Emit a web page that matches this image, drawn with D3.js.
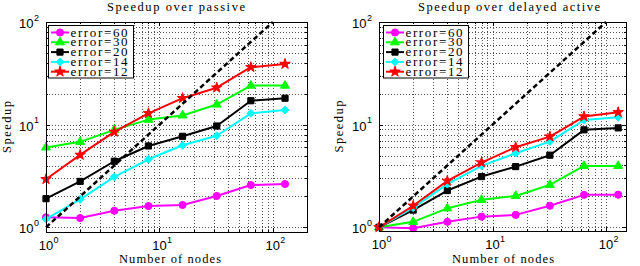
<!DOCTYPE html>
<html>
<head>
<meta charset="utf-8">
<script src="https://cdn.jsdelivr.net/npm/d3@7"></script>
<style>
  body { margin: 0; background: #fff; }
  svg { display: block; }
</style>
</head>
<body>
<div id="chart"></div>
<script>
// ---- data ----
const nodes = [1, 2, 4, 8, 16, 32, 64, 128];
const idealNodes = [1, 100];
const errorLabels = ["error=60", "error=30", "error=20", "error=14", "error=12"];

// speedup over passive
const passive60 = [1.25, 1.23, 1.45, 1.61, 1.65, 2.02, 2.58, 2.64];
const passive30 = [6.0, 6.8, 8.9, 11.2, 12.3, 15.7, 24.0, 24.0];
const passive20 = [1.9, 2.8, 4.4, 6.2, 7.7, 9.7, 17.1, 18.1];
const passive14 = [1.2, 1.87, 3.1, 4.6, 6.3, 7.8, 12.9, 13.9];
const passive12 = [2.94, 5.07, 8.5, 12.9, 18.1, 22.9, 36.3, 39.0];

// speedup over delayed active
const delayed60 = [1.0, 0.98, 1.13, 1.27, 1.32, 1.62, 2.07, 2.08];
const delayed30 = [1.0, 1.13, 1.53, 1.85, 2.02, 2.59, 3.96, 3.96];
const delayed20 = [1.0, 1.47, 2.28, 3.12, 3.9, 5.04, 8.9, 9.3];
const delayed14 = [1.0, 1.55, 2.63, 3.96, 5.27, 6.84, 11.1, 11.8];
const delayed12 = [1.0, 1.62, 2.83, 4.27, 6.03, 7.65, 12.0, 13.2];

const panelTitles = ["Speedup over passive", "Speedup over delayed active"];
const xAxisTitle = "Number of nodes";
const yAxisTitle = "Speedup";

// ---- styles ----
const seriesColors = ["#ff00ff", "#00ff00", "#000000", "#00ffff", "#ff0000"];
const serifFont = "'Liberation Serif', 'Times New Roman', Times, serif";
const sansFont = "'Liberation Sans', Arial, Helvetica, sans-serif";

// MATLAB-like diamond (a rotated square)
const symbolSquareDiamond = {
    draw: function(context, size){
        const r = Math.sqrt(size) * 0.62;
        context.moveTo(0, -r);
        context.lineTo(r, 0);
        context.lineTo(0, r);
        context.lineTo(-r, 0);
        context.closePath();
    }
};
const seriesSymbols = [
    d3.symbol(d3.symbolCircle, 40),
    d3.symbol(d3.symbolTriangle, 34),
    d3.symbol(d3.symbolSquare, 38),
    d3.symbol(symbolSquareDiamond, 40),
    d3.symbol(d3.symbolStar, 34)
];

const svg = d3.select("#chart").append("svg")
    .attr("width", 640)
    .attr("height", 266);

/**
 * One log-log speedup panel
 */
function SpeedupChart(cfg){
    var self = this;
    self.cfg = cfg;
    self.init();
}

SpeedupChart.prototype.init = function(){
    var self = this;
    var c = self.cfg;
    self.g = svg.append("g");
    self.x = d3.scaleLog().domain(c.xDomain).range([c.left, c.right]);
    self.y = d3.scaleLog().domain(c.yDomain).range([c.bottom, c.top]);
};

SpeedupChart.prototype.isMajor = function(v){
    var p = Math.log10(v);
    return Math.abs(p - Math.round(p)) < 1e-9;
};

// serif text spread to the width it has in the original (only spacing grows)
SpeedupChart.prototype.serifText = function(parent, str, size, width){
    return parent.append("text")
        .attr("font-family", serifFont)
        .attr("font-size", size)
        .attr("fill", "#000")
        .attr("textLength", width)
        .attr("lengthAdjust", "spacing")
        .text(str);
};

SpeedupChart.prototype.update = function(series){
    var self = this;
    var c = self.cfg;
    var g = self.g;
    var x = self.x, y = self.y;

    var xTicks = x.ticks();
    var yTicks = y.ticks().filter(function(v){ return v >= c.yDomain[0] * 1.001; });

    // dotted grid
    var grid = g.append("g")
        .attr("stroke", "#555")
        .attr("stroke-width", 1)
        .attr("stroke-dasharray", "1,2");
    grid.selectAll("line.vx").data(xTicks).enter().append("line")
        .attr("x1", function(d){ return Math.round(x(d)) + 0.5; })
        .attr("x2", function(d){ return Math.round(x(d)) + 0.5; })
        .attr("y1", c.top).attr("y2", c.bottom);
    grid.selectAll("line.hy").data(yTicks).enter().append("line")
        .attr("y1", function(d){ return Math.round(y(d)) + 0.5; })
        .attr("y2", function(d){ return Math.round(y(d)) + 0.5; })
        .attr("x1", c.left).attr("x2", c.right);

    // inward ticks on all four sides
    var ticks = g.append("g").attr("stroke", "#000").attr("stroke-width", 1);
    xTicks.forEach(function(d){
        var len = self.isMajor(d) ? 4 : 2;
        var px = Math.round(x(d)) + 0.5;
        ticks.append("line").attr("x1", px).attr("x2", px).attr("y1", c.bottom).attr("y2", c.bottom - len);
        ticks.append("line").attr("x1", px).attr("x2", px).attr("y1", c.top).attr("y2", c.top + len);
    });
    yTicks.forEach(function(d){
        var len = self.isMajor(d) ? 4 : 2;
        var py = Math.round(y(d)) + 0.5;
        ticks.append("line").attr("y1", py).attr("y2", py).attr("x1", c.left).attr("x2", c.left + len);
        ticks.append("line").attr("y1", py).attr("y2", py).attr("x1", c.right).attr("x2", c.right - len);
    });

    // tick labels 10^k
    xTicks.filter(function(d){ return self.isMajor(d); }).forEach(function(d){
        var px = x(d);
        g.append("text").attr("font-family", sansFont)
            .attr("x", px).attr("y", c.bottom + 18)
            .attr("text-anchor", "middle").attr("font-size", 13)
            .text("10");
        g.append("text").attr("font-family", sansFont)
            .attr("x", px + 7.5).attr("y", c.bottom + 11)
            .attr("font-size", 9)
            .text(Math.round(Math.log10(d)));
    });
    yTicks.filter(function(d){ return self.isMajor(d); }).forEach(function(d){
        var py = y(d);
        g.append("text").attr("font-family", sansFont)
            .attr("x", c.left - 12.5).attr("y", py + 6)
            .attr("text-anchor", "end").attr("font-size", 13)
            .text("10");
        g.append("text").attr("font-family", sansFont)
            .attr("x", c.left - 12).attr("y", py - 1.5)
            .attr("font-size", 9)
            .text(Math.round(Math.log10(d)));
    });

    // data lines and markers
    var line = d3.line()
        .x(function(d){ return x(d[0]); })
        .y(function(d){ return y(d[1]); });

    series.forEach(function(values, i){
        var pts = nodes.map(function(n, j){ return [n, values[j]]; });
        g.append("path")
            .attr("d", line(pts))
            .attr("fill", "none")
            .attr("stroke", seriesColors[i])
            .attr("stroke-width", 2)
            .attr("stroke-linejoin", "round");
        g.selectAll("path.m" + i).data(pts).enter().append("path")
            .attr("class", "m" + i)
            .attr("d", seriesSymbols[i])
            .attr("transform", function(d){ return "translate(" + x(d[0]) + "," + y(d[1]) + ")"; })
            .attr("fill", seriesColors[i])
            .attr("stroke", seriesColors[i])
            .attr("stroke-width", 1);
    });

    // ideal speedup, dashed
    g.append("path")
        .attr("d", line(idealNodes.map(function(n){ return [n, n]; })))
        .attr("fill", "none")
        .attr("stroke", "#000")
        .attr("stroke-width", 2.5)
        .attr("stroke-dasharray", "5,3");

    // axes box
    g.append("rect")
        .attr("x", c.left + 0.5).attr("y", c.top + 0.5)
        .attr("width", c.right - c.left).attr("height", c.bottom - c.top)
        .attr("fill", "none").attr("stroke", "#000").attr("stroke-width", 1);

    // legend
    var lx = c.left + c.legendDx, ly = 25;
    var leg = g.append("g");
    leg.append("rect")
        .attr("x", lx + 0.5).attr("y", ly + 0.5)
        .attr("width", 85).attr("height", 52.5)
        .attr("fill", "#fff").attr("stroke", "#000").attr("stroke-width", 1);
    errorLabels.forEach(function(label, i){
        var ry = ly + 7.5 + i * 9.8;
        leg.append("line")
            .attr("x1", lx + 3).attr("x2", lx + 21)
            .attr("y1", ry).attr("y2", ry)
            .attr("stroke", seriesColors[i]).attr("stroke-width", 2);
        leg.append("path")
            .attr("d", seriesSymbols[i])
            .attr("transform", "translate(" + (lx + 12) + "," + ry + ")")
            .attr("fill", seriesColors[i]).attr("stroke", seriesColors[i]);
        self.serifText(leg, label, 13, 57)
            .attr("x", lx + 22.5).attr("y", ry + 4);
    });

    // titles
    self.serifText(g, c.title, 12.5, c.titleW)
        .attr("x", c.titleX).attr("y", 11)
        .attr("text-anchor", "middle");
    self.serifText(g, xAxisTitle, 12.5, 102)
        .attr("x", c.xLabelX).attr("y", 263)
        .attr("text-anchor", "middle");
    var ycy = (c.top + c.bottom) / 2;
    self.serifText(g, yAxisTitle, 12.5, 52)
        .attr("transform", "translate(" + c.yLabelX + "," + ycy + ") rotate(-90)")
        .attr("text-anchor", "middle");
};

var passiveChart = new SpeedupChart({
    left: 46, right: 307, top: 22, bottom: 232,
    xDomain: [1, 200], yDomain: [0.9, 100],
    legendDx: 2, title: panelTitles[0], titleX: 176, titleW: 138,
    xLabelX: 170, yLabelX: 11
});
passiveChart.update([passive60, passive30, passive20, passive14, passive12]);

var delayedChart = new SpeedupChart({
    left: 379, right: 626, top: 22, bottom: 231,
    xDomain: [1, 150], yDomain: [0.92, 100],
    legendDx: 4, title: panelTitles[1], titleX: 509, titleW: 182,
    xLabelX: 503, yLabelX: 343
});
delayedChart.update([delayed60, delayed30, delayed20, delayed14, delayed12]);
</script>
</body>
</html>
